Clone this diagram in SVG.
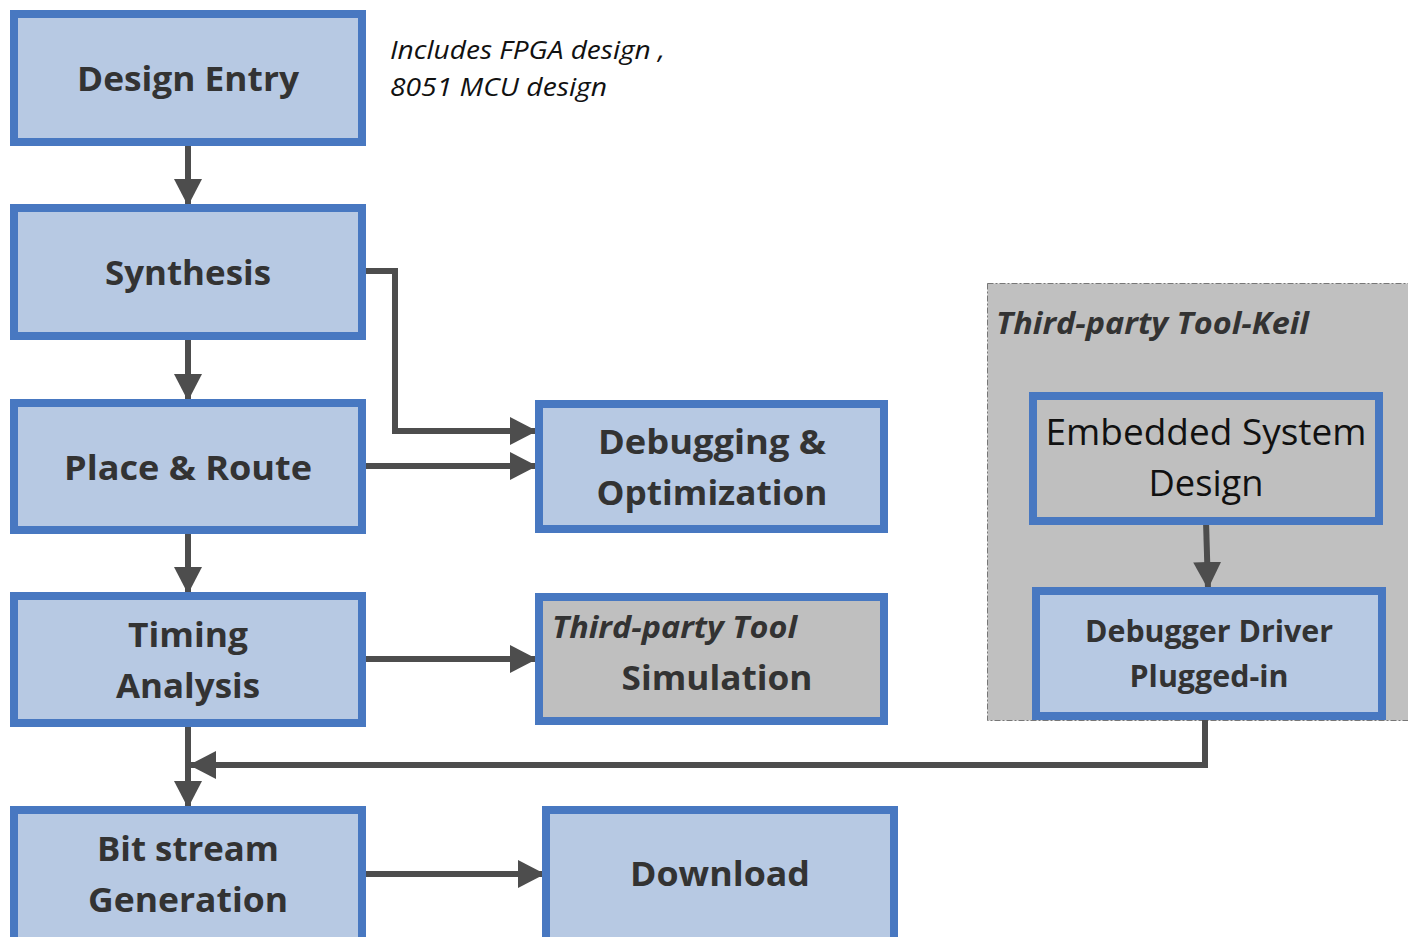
<svg xmlns="http://www.w3.org/2000/svg" width="1408" height="937" viewBox="0 0 1408 937">
<style>
.box{fill:#b7c9e3;stroke:#4878c1;stroke-width:8}
.gbox{fill:#bfbfbf;stroke:#4878c1;stroke-width:8}
.t{font-family:"Open Sans","Liberation Sans",sans-serif;font-weight:bold;fill:#333333;text-anchor:middle}
.tn{font-family:"Open Sans","Liberation Sans",sans-serif;fill:#111111;text-anchor:middle}
.ti{font-family:"Open Sans","Liberation Sans",sans-serif;font-style:italic;fill:#111111}
.tbi{font-family:"Open Sans","Liberation Sans",sans-serif;font-style:italic;font-weight:bold;fill:#333333}
.c{fill:none;stroke:#4d4d4d;stroke-width:6;stroke-linejoin:miter}
</style>
<defs>
<marker id="a" viewBox="0 0 27 28" refX="27" refY="14" markerWidth="27" markerHeight="28" orient="auto" markerUnits="userSpaceOnUse">
<path d="M0,0 L27,14 L0,28 Z" fill="#4d4d4d"/>
</marker>
</defs>
<g id="keil-container">
<rect x="987.5" y="283.5" width="430" height="437" fill="#c0c0c0" stroke="#777777" stroke-width="1" stroke-dasharray="6,2,2,2"/>
<text class="tbi" x="996" y="334" font-size="30" textLength="313" lengthAdjust="spacingAndGlyphs">Third-party Tool-Keil</text>
</g>
<g id="connectors">
<path class="c" d="M188,142 V206" marker-end="url(#a)"/>
<path class="c" d="M188,336 V401" marker-end="url(#a)"/>
<path class="c" d="M188,530 V594" marker-end="url(#a)"/>
<path class="c" d="M188,723 V808" marker-end="url(#a)"/>
<path class="c" d="M1205,720 V765 H189" marker-end="url(#a)"/>
<path class="c" d="M362,271 H395 V431 H537" marker-end="url(#a)"/>
<path class="c" d="M362,466 H537" marker-end="url(#a)"/>
<path class="c" d="M362,659 H537" marker-end="url(#a)"/>
<path class="c" d="M362,874 H545" marker-end="url(#a)"/>
<path class="c" d="M1206,521 L1208,589" marker-end="url(#a)"/>
</g>
<g id="design-entry">
<rect class="box" x="14" y="14" width="348" height="128"/>
<text class="t" x="188" y="91" font-size="34" textLength="222" lengthAdjust="spacingAndGlyphs">Design Entry</text>
</g>
<g id="note">
<text class="ti" x="390" y="59" font-size="25" textLength="275" lengthAdjust="spacingAndGlyphs">Includes FPGA design ,</text>
<text class="ti" x="390" y="96" font-size="25" textLength="217" lengthAdjust="spacingAndGlyphs">8051 MCU design</text>
</g>
<g id="synthesis">
<rect class="box" x="14" y="208" width="348" height="128"/>
<text class="t" x="188" y="285" font-size="34" textLength="166" lengthAdjust="spacingAndGlyphs">Synthesis</text>
</g>
<g id="place-route">
<rect class="box" x="14" y="403" width="348" height="127"/>
<text class="t" x="188" y="480" font-size="34" textLength="248" lengthAdjust="spacingAndGlyphs">Place &amp; Route</text>
</g>
<g id="timing-analysis">
<rect class="box" x="14" y="596" width="348" height="127"/>
<text class="t" x="188" y="647" font-size="34" textLength="120" lengthAdjust="spacingAndGlyphs">Timing</text>
<text class="t" x="188" y="698" font-size="34" textLength="144" lengthAdjust="spacingAndGlyphs">Analysis</text>
</g>
<g id="bitstream">
<rect class="box" x="14" y="810" width="348" height="140"/>
<text class="t" x="188" y="861" font-size="34" textLength="182" lengthAdjust="spacingAndGlyphs">Bit stream</text>
<text class="t" x="188" y="912" font-size="34" textLength="200" lengthAdjust="spacingAndGlyphs">Generation</text>
</g>
<g id="debugging">
<rect class="box" x="539" y="404" width="345" height="125"/>
<text class="t" x="712" y="454" font-size="34" textLength="228" lengthAdjust="spacingAndGlyphs">Debugging &amp;</text>
<text class="t" x="712" y="505" font-size="34" textLength="231" lengthAdjust="spacingAndGlyphs">Optimization</text>
</g>
<g id="simulation">
<rect class="gbox" x="539" y="597" width="345" height="124"/>
<text class="tbi" x="552" y="638" font-size="30" textLength="245" lengthAdjust="spacingAndGlyphs">Third-party Tool</text>
<text class="t" x="717" y="690" font-size="34" textLength="191" lengthAdjust="spacingAndGlyphs">Simulation</text>
</g>
<g id="download">
<rect class="box" x="546" y="810" width="348" height="140"/>
<text class="t" x="720" y="886" font-size="34" textLength="180" lengthAdjust="spacingAndGlyphs">Download</text>
</g>
<g id="embedded">
<rect class="gbox" x="1033" y="396" width="346" height="125"/>
<text class="tn" x="1206" y="445" font-size="37" textLength="321" lengthAdjust="spacingAndGlyphs">Embedded System</text>
<text class="tn" x="1206" y="496" font-size="37" textLength="115" lengthAdjust="spacingAndGlyphs">Design</text>
</g>
<g id="debugger-driver">
<rect class="box" x="1036" y="591" width="346" height="125"/>
<text class="t" x="1209" y="642" font-size="30" textLength="248" lengthAdjust="spacingAndGlyphs">Debugger Driver</text>
<text class="t" x="1209" y="687" font-size="30" textLength="159" lengthAdjust="spacingAndGlyphs">Plugged-in</text>
</g>
</svg>
